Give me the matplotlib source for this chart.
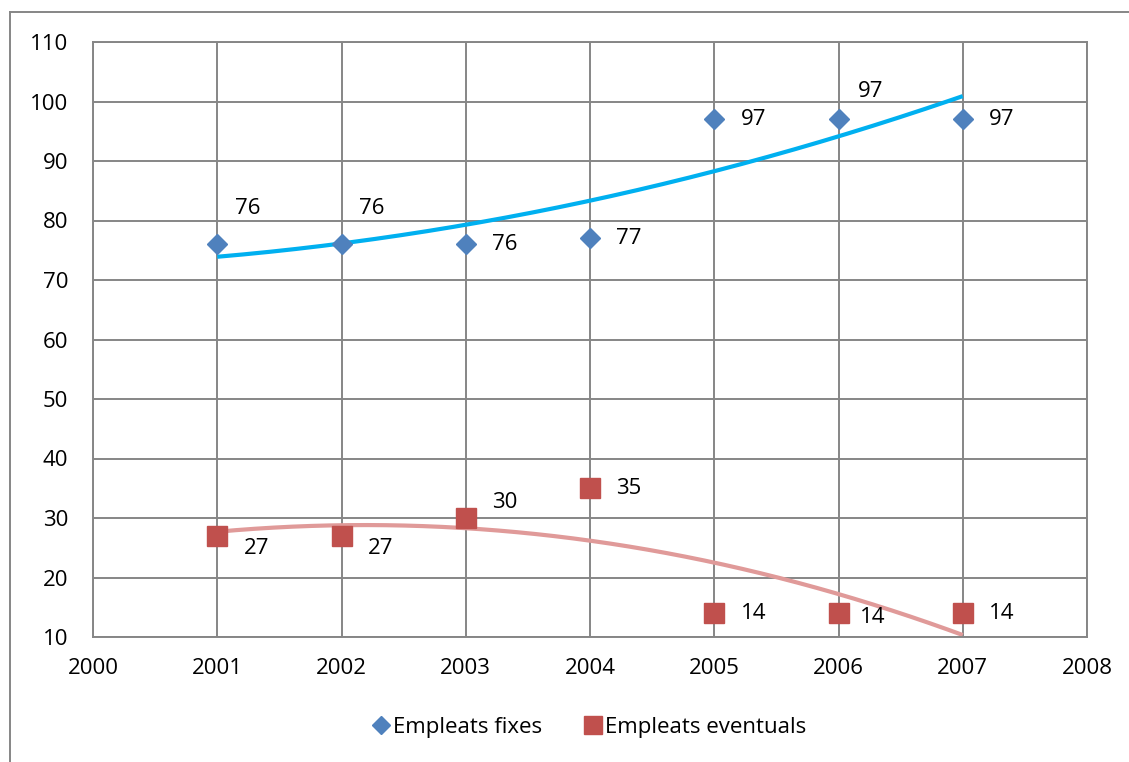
import numpy as np
import matplotlib.pyplot as plt
from matplotlib.lines import Line2D

years = [2001, 2002, 2003, 2004, 2005, 2006, 2007]
fixes = [76, 76, 76, 77, 97, 97, 97]
eventuals = [27, 27, 30, 35, 14, 14, 14]

# label offsets in pixels (dx, dy), Excel placed them to dodge the trendline
fixes_off = [(30, 36), (30, 36), (39, 0), (39, 0), (39, 0), (32, 28), (39, 0)]
event_off = [(39, -13), (39, -13), (39, 15), (39, 0), (39, 0), (34, -4), (39, 0)]

plt.rcParams['font.family'] = ['Open Sans', 'DejaVu Sans']
grey = '#868686'
fs = 16

fig = plt.figure(figsize=(11.29, 7.62), dpi=100)
ax = fig.add_axes([93 / 1129, 1 - 637 / 762, (1087 - 93) / 1129, (637 - 42) / 762])

# trendlines (2nd order polynomial, like Excel)
xx = np.linspace(years[0], years[-1], 200)
x0 = np.array(years) - years[0]
pf = np.polyfit(x0, fixes, 2)
pe = np.polyfit(x0, eventuals, 2)
ax.plot(xx, np.polyval(pf, xx - years[0]), color='#00B0F0', lw=3, zorder=2,
        solid_capstyle='butt')
ax.plot(xx, np.polyval(pe, xx - years[0]), color='#E09A99', lw=3, zorder=2,
        solid_capstyle='butt')

ax.plot(years, fixes, 'D', color='#4F81BD', ms=10, mec='#4F81BD', zorder=3,
        label='Empleats fixes', clip_on=False)
ax.plot(years, eventuals, 's', color='#C0504D', ms=14, mec='#C0504D', zorder=3,
        label='Empleats eventuals', clip_on=False)

for x, y, (dx, dy) in zip(years, fixes, fixes_off):
    ax.annotate(str(y), (x, y), xytext=(dx * 0.72, dy * 0.72),
                textcoords='offset points', ha='center', va='center', fontsize=fs)
for x, y, (dx, dy) in zip(years, eventuals, event_off):
    ax.annotate(str(y), (x, y), xytext=(dx * 0.72, dy * 0.72),
                textcoords='offset points', ha='center', va='center', fontsize=fs)

ax.set_xlim(2000, 2008)
ax.set_ylim(10, 110)
ax.set_xticks(range(2000, 2009))
ax.set_yticks(range(10, 111, 10))
ax.grid(True, color=grey, lw=1.4)
ax.set_axisbelow(True)
ax.tick_params(length=0, labelsize=fs)
ax.tick_params(axis='x', pad=15)
ax.tick_params(axis='y', pad=18)
for s in ax.spines.values():
    s.set_color(grey)
    s.set_linewidth(1.4)

leg = ax.legend(loc='center', bbox_to_anchor=(588 / 1129, 1 - 727 / 762),
                bbox_transform=fig.transFigure, ncol=2, frameon=False,
                fontsize=fs, markerscale=0.95, handletextpad=0.05,
                columnspacing=1.8, handlelength=1.0)

# outer chart border (cut off on right and bottom)
fig.add_artist(Line2D([10 / 1129, 10 / 1129], [0, 1 - 12 / 762], color=grey, lw=1.4))
fig.add_artist(Line2D([10 / 1129, 1], [1 - 12 / 762, 1 - 12 / 762], color=grey, lw=1.4))

fig.savefig('out.png', dpi=100)
